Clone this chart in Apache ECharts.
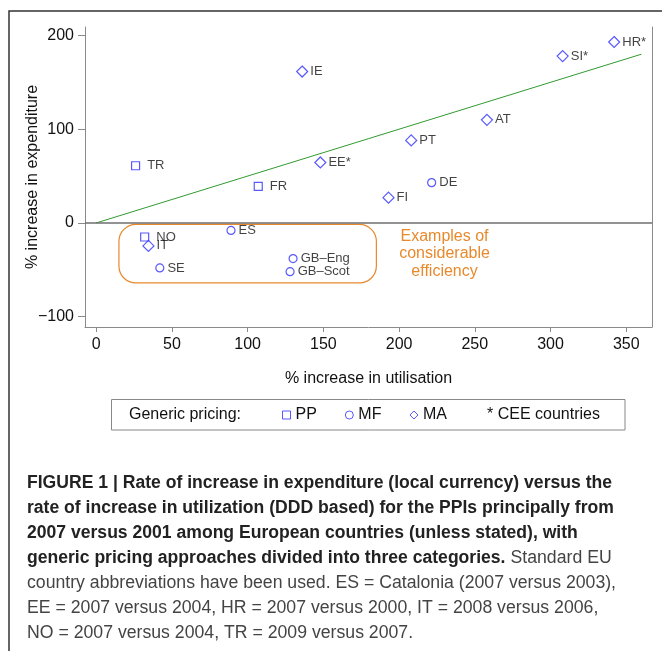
<!DOCTYPE html>
<html>
<head>
<meta charset="utf-8">
<title>PPI expenditure vs utilisation</title>
<script src="https://cdn.jsdelivr.net/npm/echarts@6/dist/echarts.min.js"></script>
<style>
  html, body { margin: 0; padding: 0; background: #fff; }
  #chart { width: 662px; height: 651px; }
</style>
</head>
<body>
<div id="chart"></div>
<script>
// [country, % increase in utilisation, % increase in expenditure]
var ppData = [['TR', 26, 61], ['FR', 107, 39], ['NO', 32, -15]];
var mfData = [['DE', 221.5, 43], ['ES', 89, -8], ['SE', 42, -48], ['GB–Eng', 130, -38], ['GB–Scot', 128, -52]];
var maData = [['HR*', 342, 193], ['SI*', 308, 178], ['IE', 136, 161.5], ['AT', 258, 110],
  ['PT', 208, 88], ['EE*', 148, 64.5], ['FI', 193, 27], ['IT', 34.5, -24.5]];
var trendX = [0, 360];
var trendY = [0, 180];
var xTicks = [0, 50, 100, 150, 200, 250, 300, 350];
var yTicks = [-100, 0, 100, 200];
// efficiency box: x from, x to, y top, y bottom; note centre
var effBox = [15, 185, -1.5, -64];
var notePos = [230, -33];
var noteText = 'Examples of\nconsiderable\nefficiency';

var captionBold = [
  'FIGURE 1 | Rate of increase in expenditure (local currency) versus the',
  'rate of increase in utilization (DDD based) for the PPIs principally from',
  '2007 versus 2001 among European countries (unless stated), with',
  'generic pricing approaches divided into three categories.'
];
var captionRegular = [
  'Standard EU',
  'country abbreviations have been used. ES = Catalonia (2007 versus 2003),',
  'EE = 2007 versus 2004, HR = 2007 versus 2000, IT = 2008 versus 2006,',
  'NO = 2007 versus 2004, TR = 2009 versus 2007.'
];

var FONT = '"Liberation Sans", Arial, sans-serif';
var BLUE = '#3030ff';
var AXIS = '#8a8a8a';

function toPoints(arr) {
  return arr.map(function (d) { return { name: d[0], value: [d[1], d[2]] }; });
}

function scatter(name, data, symbol, size, dist) {
  return {
    name: name,
    type: 'scatter',
    data: toPoints(data),
    symbol: symbol,
    symbolSize: size,
    itemStyle: { color: 'rgba(255,255,255,0)', borderColor: BLUE, borderWidth: 1.2 },
    label: {
      show: true, position: 'right', distance: dist, formatter: '{b}',
      fontSize: 13, color: '#111', fontFamily: FONT
    },
    emphasis: { disabled: true }
  };
}

var chart = echarts.init(document.getElementById('chart'));

chart.setOption({
  animation: false,
  textStyle: { fontFamily: FONT },
  grid: { left: 85, right: 10, top: 27, bottom: 324, outerBoundsMode: 'none' },
  xAxis: {
    type: 'value', min: -7.4, max: 367,
    name: '% increase in utilisation', nameLocation: 'middle', nameGap: 44,
    nameMoveOverlap: false,
    nameTextStyle: { fontSize: 16, color: '#111' },
    axisLine: { show: true, onZero: false, lineStyle: { color: AXIS, width: 1 } },
    axisTick: { show: true, length: 5, customValues: xTicks, lineStyle: { color: AXIS } },
    axisLabel: { customValues: xTicks, margin: 10, fontSize: 16, color: '#111' },
    splitLine: { show: false }
  },
  yAxis: [{
    type: 'value', min: -111, max: 209,
    name: '% increase in expenditure', nameLocation: 'middle', nameGap: 44,
    nameMoveOverlap: false,
    nameTextStyle: { fontSize: 16, color: '#111' },
    axisLine: { show: true, onZero: false, lineStyle: { color: AXIS, width: 1 } },
    axisTick: { show: true, length: 7, customValues: yTicks, lineStyle: { color: AXIS } },
    axisLabel: {
      customValues: yTicks, margin: 11, fontSize: 16, color: '#111',
      formatter: function (v) { return String(v).replace('-', '\u2212'); }
    },
    splitLine: { show: false }
  }, {
    type: 'value', min: -111, max: 209, position: 'right',
    axisLine: { show: true, onZero: false, lineStyle: { color: AXIS, width: 1 } },
    axisTick: { show: false }, axisLabel: { show: false }, splitLine: { show: false }
  }],
  legend: {
    data: ['PP', 'MF', 'MA'],
    left: 277, top: 402,
    itemWidth: 8, itemHeight: 8, itemGap: 28,
    selectedMode: false,
    itemStyle: { borderWidth: 1 },
    textStyle: { fontSize: 16, color: '#111' }
  },
  series: [
    scatter('PP', ppData, 'rect', 8, 7),
    scatter('MF', mfData, 'circle', 8, 3),
    scatter('MA', maData, 'diamond', 11, 2),
    {
      name: 'trend', type: 'line',
      data: trendX.map(function (x, i) { return [x, trendY[i]]; }),
      symbol: 'none', silent: true,
      lineStyle: { color: '#2f9a2f', width: 1 },
      markLine: {
        silent: true, symbol: 'none', label: { show: false },
        lineStyle: { color: '#6e6e6e', width: 1.5, type: 'solid' },
        data: [{ yAxis: 0 }]
      },
      z: 1
    }
  ]
});

// annotation box and caption
var tl = chart.convertToPixel({ gridIndex: 0 }, [effBox[0], effBox[2]]);
var br = chart.convertToPixel({ gridIndex: 0 }, [effBox[1], effBox[3]]);
var np = chart.convertToPixel({ gridIndex: 0 }, notePos);

var ctx = document.createElement('canvas').getContext('2d');
var boldFont = 'bold 17.5px ' + FONT;
var regFont = '17.5px ' + FONT;
function measure(font, t) { ctx.font = font; return ctx.measureText(t).width; }
var boldScale = 585 / measure(boldFont, captionBold[0]);
var regScale = 589 / measure(regFont, captionRegular[1]);

var graphics = [
  {
    type: 'polyline', silent: true,
    shape: { points: [[9, 651], [9, 11], [662, 11]] },
    style: { stroke: '#333', lineWidth: 1.5, fill: null }
  },
  {
    type: 'rect', silent: true,
    shape: { x: tl[0], y: tl[1], width: br[0] - tl[0], height: br[1] - tl[1], r: 17 },
    style: { stroke: '#e8892c', lineWidth: 1.2, fill: null }
  },
  {
    type: 'text', silent: true, x: np[0], y: np[1],
    style: {
      text: noteText, font: '16px ' + FONT, fill: '#e8892c', lineHeight: 17.5,
      align: 'center', verticalAlign: 'middle', textAlign: 'center', textVerticalAlign: 'middle'
    }
  },
  {
    type: 'rect', silent: true,
    shape: { x: 111.5, y: 399.5, width: 513.5, height: 30.5 },
    style: { stroke: '#888', lineWidth: 1, fill: null }
  },
  {
    type: 'text', silent: true, x: 129, y: 415,
    style: { text: 'Generic pricing:', font: '16px ' + FONT, fill: '#111', verticalAlign: 'middle', textVerticalAlign: 'middle' }
  },
  {
    type: 'text', silent: true, x: 487, y: 415,
    style: { text: '* CEE countries', font: '16px ' + FONT, fill: '#111', verticalAlign: 'middle', textVerticalAlign: 'middle' }
  }
];

var lineY = [483, 508, 533, 558, 583, 608, 633];
captionBold.forEach(function (t, i) {
  graphics.push({
    type: 'text', silent: true, x: 27, y: lineY[i], scaleX: boldScale,
    style: { text: t, font: boldFont, fill: '#222', verticalAlign: 'middle', textVerticalAlign: 'middle' }
  });
});
var endOfBold = 27 + measure(boldFont, captionBold[3]) * boldScale + 5;
captionRegular.forEach(function (t, i) {
  graphics.push({
    type: 'text', silent: true, x: i === 0 ? endOfBold : 27, y: lineY[i + 3], scaleX: regScale,
    style: { text: t, font: regFont, fill: '#444', verticalAlign: 'middle', textVerticalAlign: 'middle' }
  });
});

chart.setOption({ graphic: graphics });
</script>
</body>
</html>
